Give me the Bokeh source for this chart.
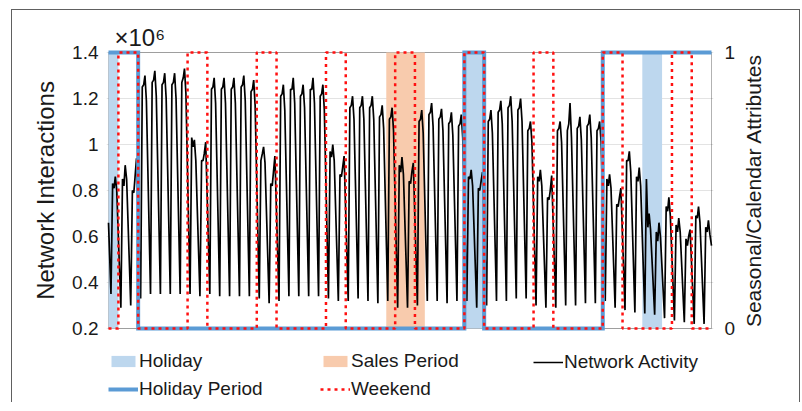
import math
from bokeh.plotting import figure
from bokeh.layouts import column, row
from bokeh.models import (Range1d, LinearAxis, FixedTicker, NumeralTickFormatter,
                          Legend, LegendItem, BoxAnnotation)
from bokeh.embed import file_html
from bokeh.resources import INLINE

FONT = "Liberation Sans"
TXT = "#1a1a1a"

# ---------------- data ----------------
# day index 0 .. 60 ; network interactions in units of 1e6
days = list(range(61))
hours = [6, 10, 13.5, 16.5, 20]          # hour of day of each daily sample

trough = [0.35, 0.29, 0.30,
          0.33, 0.35, 0.35, 0.35, 0.35, 0.35, 0.34,
          0.35, 0.34, 0.34, 0.34, 0.34, 0.33, 0.31,
          0.32, 0.34, 0.34, 0.34, 0.34, 0.33, 0.32,
          0.32, 0.33, 0.32, 0.31, 0.32, 0.29, 0.29,
          0.30, 0.32, 0.32, 0.31, 0.32, 0.32, 0.29,
          0.30, 0.32, 0.32, 0.33, 0.33, 0.30, 0.29,
          0.29, 0.30, 0.30, 0.31, 0.31, 0.32, 0.29,
          0.28, 0.27, 0.265, 0.26, 0.245, 0.235, 0.227,
          0.22, 0.22]
morning = [0.83, 0.85, 0.80,
           1.25, 1.27, 1.26, 1.26, 1.27, 1.03, 0.93,
           1.24, 1.24, 1.24, 1.25, 1.23, 0.93, 0.83,
           1.21, 1.24, 1.21, 1.24, 1.21, 0.97, 0.87,
           1.16, 1.16, 1.16, 1.12, 1.11, 0.91, 0.84,
           1.10, 1.13, 1.11, 1.09, 1.08, 0.86, 0.81,
           1.10, 1.14, 1.16, 1.15, 1.06, 0.86, 0.77,
           1.06, 1.06, 1.07, 1.08, 1.06, 0.85, 0.74,
           0.93, 0.86, 0.85, 0.62, 0.73, 0.65, 0.59,
           0.69, 0.64]
midday = [0.81, 0.82, 0.79,
          1.26, 1.28, 1.27, 1.27, 1.29, 0.99, 0.93,
          1.25, 1.25, 1.25, 1.26, 1.24, 0.96, 0.82,
          1.22, 1.24, 1.22, 1.24, 1.22, 0.945, 0.86,
          1.17, 1.17, 1.17, 1.13, 1.12, 0.88, 0.83,
          1.11, 1.14, 1.12, 1.10, 1.09, 0.85, 0.80,
          1.11, 1.15, 1.17, 1.16, 1.07, 0.84, 0.76,
          1.07, 1.09, 1.08, 1.09, 1.07, 0.82, 0.73,
          0.93, 0.84, 0.64, 0.58, 0.71, 0.62, 0.56,
          0.68, 0.62]
afternoon = [0.86, 0.91, 0.86,
             1.30, 1.32, 1.31, 1.31, 1.33, 1.02, 0.96,
             1.29, 1.29, 1.29, 1.30, 1.28, 0.99, 0.88,
             1.26, 1.29, 1.26, 1.29, 1.26, 1.00, 0.90,
             1.21, 1.21, 1.21, 1.17, 1.16, 0.945, 0.88,
             1.15, 1.18, 1.155, 1.14, 1.13, 0.89, 0.84,
             1.15, 1.19, 1.21, 1.20, 1.10, 0.89, 0.80,
             1.10, 1.18, 1.12, 1.13, 1.10, 0.87, 0.77,
             0.97, 0.90, 0.70, 0.66, 0.77, 0.68, 0.60,
             0.73, 0.67]
evening = [0.80, 0.85, 0.94,
           1.19, 1.21, 1.20, 1.20, 1.22, 0.93, 1.01,
           1.18, 1.18, 1.18, 1.19, 1.17, 0.92, 0.95,
           1.15, 1.18, 1.16, 1.18, 1.15, 0.93, 0.95,
           1.11, 1.11, 1.11, 1.07, 1.06, 0.87, 0.92,
           1.05, 1.08, 1.06, 1.04, 1.03, 0.82, 0.88,
           1.05, 1.09, 1.10, 1.10, 1.01, 0.82, 0.865,
           1.01, 1.03, 1.02, 1.03, 1.01, 0.81, 0.81,
           0.88, 0.82, 0.63, 0.60, 0.69, 0.62, 0.63,
           0.66, 0.61]
start_value = 0.66
end_value = 0.56

holiday_start = [0, 35.8, 54]
holiday_end = [1, 38.2, 56]
sales_start = [28.1]
sales_end = [32.0]
holiday_period_start = [0, 36, 50]
holiday_period_end = [3, 38, 61]
weekend_start = [1, 8, 15, 22, 29, 36, 43, 50, 57]
weekend_end = [3, 10, 17, 24, 31, 38, 45, 52, 59]

y_ticks = [0.2, 0.4, 0.6, 0.8, 1.0, 1.2, 1.4]
attr_ticks = [0, 1]
X_LO, X_HI = 0, 61
Y_LO, Y_HI = 0.2, 1.4

# ---------------- build series from the data ----------------
t = [0.0]
v = [start_value]
for k in days:
    for h, val in zip(hours, [trough[k], morning[k], midday[k], afternoon[k], evening[k]]):
        t.append(k + h / 24.0)
        v.append(val)
t.append(float(X_HI))
v.append(end_value)


def indicator_path(starts, ends, lo, hi):
    pts = [(lo, 0)]
    for s, e in zip(starts, ends):
        pts += [(s, 0), (s, 1), (e, 1), (e, 0)]
    pts.append((hi, 0))
    cov_lo = 1 if any(s <= lo < e for s, e in zip(starts, ends)) else 0
    cov_hi = 1 if any(s < hi <= e for s, e in zip(starts, ends)) else 0
    out = []
    for x, y in pts:
        if x == lo and y != cov_lo:
            continue
        if x == hi and y != cov_hi:
            continue
        if out and out[-1] == (x, y):
            continue
        out.append((x, y))
    return [q[0] for q in out], [q[1] for q in out]


hp_x, hp_y = indicator_path(holiday_period_start, holiday_period_end, X_LO, X_HI)
we_x, we_y = indicator_path(weekend_start, weekend_end, X_LO, X_HI)

# ---------------- main figure ----------------
# the frame is a few pixels larger than the axes box so that the thick
# indicator lines on the box edges are not cut in half
PLOT_W, PLOT_H = 603, 276
PAD_X, PAD_Y = 2, 3
BT, BB = 39, 9
px = (X_HI - X_LO) / PLOT_W
py = (Y_HI - Y_LO) / PLOT_H
pa = 1.0 / PLOT_H

p = figure(frame_width=PLOT_W + 2 * PAD_X, frame_height=PLOT_H + 2 * PAD_Y,
           min_border_left=94, min_border_right=24,
           min_border_top=BT, min_border_bottom=BB,
           x_range=Range1d(X_LO - PAD_X * px, X_HI + PAD_X * px),
           y_range=Range1d(Y_LO - PAD_Y * py, Y_HI + PAD_Y * py),
           x_axis_location=None,
           output_backend="svg", toolbar_location=None,
           background_fill_color="white", border_fill_color="white")
p.outline_line_color = None
p.extra_y_ranges = {"attr": Range1d(0 - PAD_Y * pa, 1 + PAD_Y * pa)}

# exponent as title
p.title.text = "×10⁶"
p.title.align = "left"
p.title.offset = 8
p.title.standoff = -2
p.title.text_font = FONT
p.title.text_font_size = "24px"
p.title.text_font_style = "normal"
p.title.text_color = TXT

# grid
p.ygrid.ticker = FixedTicker(ticks=y_ticks)
p.ygrid.grid_line_color = "#e3e3e3"
p.ygrid.grid_line_width = 1
for g in p.xgrid:
    g.visible = False

# axes box
p.add_layout(BoxAnnotation(left=X_LO, right=X_HI, bottom=Y_LO, top=Y_HI,
                           fill_color=None, fill_alpha=0,
                           line_color="black", line_width=1, level="underlay"))


def bare_ticks(ax):
    ax.axis_line_color = None
    ax.major_tick_line_color = None
    ax.minor_tick_line_color = None
    ax.major_tick_in = 0
    ax.major_tick_out = 0
    ax.minor_tick_in = 0
    ax.minor_tick_out = 0


# left axis
ya = p.yaxis[0]
ya.ticker = FixedTicker(ticks=y_ticks)
ya.formatter = NumeralTickFormatter(format="0.[0]")
bare_ticks(ya)
ya.major_label_standoff = 8
ya.major_label_text_font = FONT
ya.major_label_text_font_size = "19px"
ya.major_label_text_color = TXT
ya.axis_label = "Network Interactions"
ya.axis_label_text_font = FONT
ya.axis_label_text_font_size = "24px"
ya.axis_label_text_font_style = "normal"
ya.axis_label_text_color = TXT
ya.axis_label_standoff = 10

# right axis
ra = LinearAxis(y_range_name="attr", ticker=FixedTicker(ticks=attr_ticks))
bare_ticks(ra)
ra.major_label_standoff = 11
ra.major_label_text_font = FONT
ra.major_label_text_font_size = "19px"
ra.major_label_text_color = TXT
p.add_layout(ra, "right")

# glyphs
HOL_C, SALES_C, HP_C, WE_C = "#BDD7EE", "#F8CBAD", "#5B9BD5", "#FF1010"
r_hol = p.quad(left=holiday_start, right=holiday_end, bottom=0, top=1,
               y_range_name="attr", fill_color=HOL_C, line_color=None)
r_sales = p.quad(left=sales_start, right=sales_end, bottom=0, top=1,
                 y_range_name="attr", fill_color=SALES_C, line_color=None)
r_line = p.line(t, v, line_color="black", line_width=1.7)
r_hp = p.line(hp_x, hp_y, y_range_name="attr", line_color=HP_C,
              line_width=4, line_join="miter")
r_we = p.line(we_x, we_y, y_range_name="attr", line_color=WE_C,
              line_width=2.5, line_dash="3 4")

# ---------------- right axis-title strip ----------------
RW = 61
rf = figure(width=RW, frame_height=PLOT_H + 2 * PAD_Y,
            min_border_left=26, min_border_right=0,
            min_border_top=BT, min_border_bottom=BB, title=None,
            x_range=Range1d(0, 1), y_range=Range1d(0, 1),
            x_axis_location=None, y_axis_location="left",
            output_backend="svg", toolbar_location=None,
            background_fill_color="white", border_fill_color="white")
rf.outline_line_color = None
rf.grid.visible = False
rax = rf.yaxis[0]
rax.ticker = FixedTicker(ticks=[])
bare_ticks(rax)
rax.major_label_standoff = 0
rax.axis_label = "Seasonal/Calendar Attributes"
rax.axis_label_text_font = FONT
rax.axis_label_text_font_size = "21px"
rax.axis_label_text_font_style = "normal"
rax.axis_label_text_color = TXT
rax.axis_label_standoff = 0

# ---------------- legend strip ----------------
LW, LH = 786, 62
lf = figure(width=LW, height=LH, min_border=0, title=None,
            x_range=Range1d(0, LW), y_range=Range1d(0, LH),
            x_axis_location=None, y_axis_location=None,
            output_backend="svg", toolbar_location=None,
            background_fill_color="white", border_fill_color="white")
lf.outline_line_color = None
lf.grid.visible = False
# legend proxies (kept outside the visible range of this strip)
ox = [-30, -20]
oy = [-30, -30]
l_hol = lf.quad(left=[-30], right=[-20], bottom=[-30], top=[-20],
                fill_color=HOL_C, line_color=None)
l_sales = lf.quad(left=[-30], right=[-20], bottom=[-30], top=[-20],
                  fill_color=SALES_C, line_color=None)
l_line = lf.line(x=ox, y=oy, line_color="black", line_width=1.5)
l_hp = lf.line(x=ox, y=oy, line_color=HP_C, line_width=4)
l_we = lf.line(x=ox, y=oy, line_color=WE_C, line_width=2.5, line_dash="3 4")


def make_legend(items, loc):
    leg = Legend(items=items, location=loc, orientation="vertical",
                 padding=0, margin=0, border_line_color=None,
                 background_fill_alpha=0, glyph_width=30, glyph_height=14,
                 label_height=21, spacing=6, label_standoff=1,
                 label_text_font=FONT, label_text_font_size="19px",
                 label_text_color=TXT)
    lf.add_layout(leg, "center")
    return leg


make_legend([LegendItem(label="Holiday", renderers=[l_hol]),
             LegendItem(label="Holiday Period", renderers=[l_hp])], (96, 2))
make_legend([LegendItem(label="Sales Period", renderers=[l_sales]),
             LegendItem(label="Weekend", renderers=[l_we])], (308, 2))
make_legend([LegendItem(label="Network Activity", renderers=[l_line])], (521, 29))

layout = column(row(p, rf, spacing=0), lf, spacing=0, margin=(9, 0, 0, 11),
                styles={"border-top": "1px solid #606060",
                        "border-left": "1px solid #606060",
                        "border-right": "1px solid #606060"})

open("out.html", "w").write(file_html(layout, INLINE))
